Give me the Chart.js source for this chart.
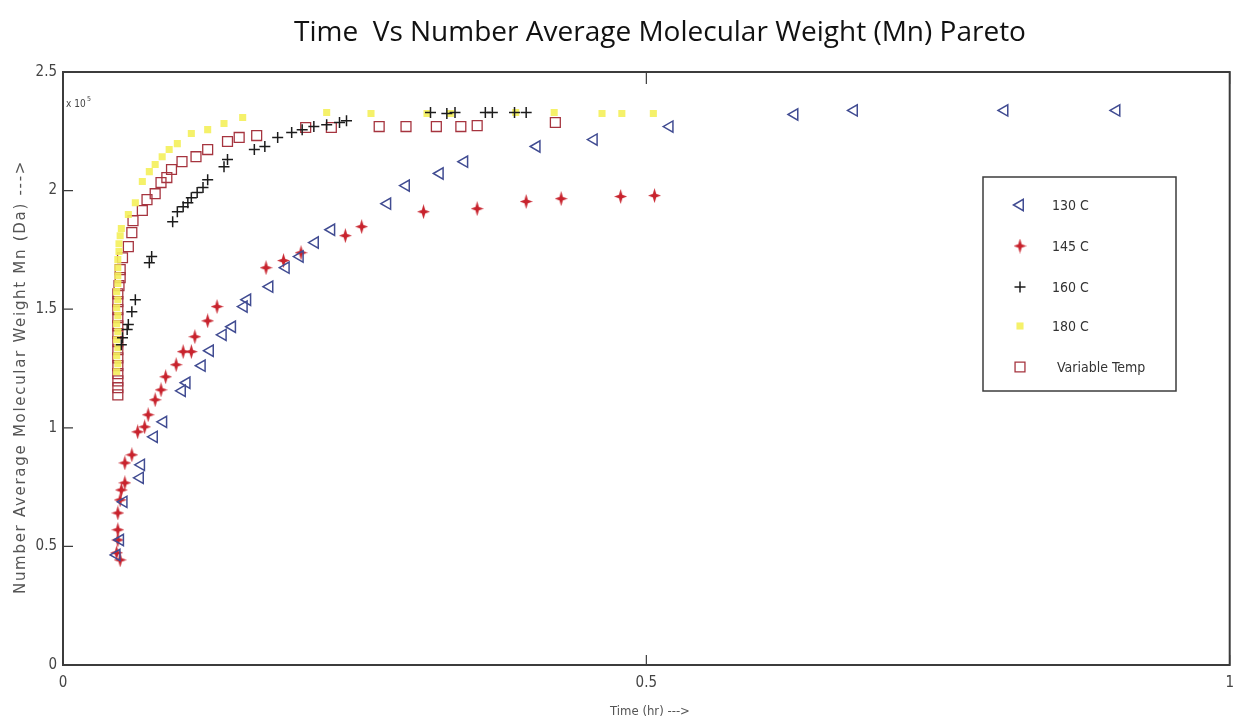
<!DOCTYPE html>
<html>
<head>
<meta charset="utf-8">
<script src="https://cdn.jsdelivr.net/npm/chart.js@4.4.1/dist/chart.umd.min.js"></script>
<style>
  html, body { margin: 0; padding: 0; background: #fff; }
  #wrap { width: 1238px; height: 723px; position: relative; }
</style>
</head>
<body>
<div id="wrap"><canvas id="mnChart"></canvas></div>
<script>
// Data (time in hr, Mn in units of 1e5 Da)
const time130 = [0.046,0.049,0.052,0.066,0.067,0.078,0.086,0.102,0.106,0.119,0.126,0.137,0.145,0.155,0.158,0.177,0.191,0.203,0.216,0.230,0.278,0.294,0.323,0.344,0.406,0.455,0.520,0.627,0.678,0.807,0.903];
const mn130   = [0.464,0.527,0.688,0.789,0.844,0.962,1.025,1.156,1.190,1.262,1.325,1.392,1.426,1.511,1.540,1.595,1.675,1.722,1.781,1.835,1.945,2.021,2.072,2.122,2.186,2.215,2.270,2.321,2.338,2.338,2.338];

const time145 = [0.049,0.046,0.047,0.047,0.047,0.049,0.050,0.053,0.053,0.059,0.064,0.070,0.073,0.079,0.084,0.088,0.097,0.103,0.110,0.113,0.124,0.132,0.174,0.189,0.204,0.242,0.256,0.309,0.355,0.397,0.427,0.478,0.507];
const mn145   = [0.443,0.473,0.527,0.570,0.641,0.696,0.738,0.768,0.852,0.886,0.983,1.004,1.055,1.118,1.160,1.215,1.266,1.321,1.321,1.384,1.451,1.511,1.675,1.705,1.738,1.810,1.848,1.911,1.924,1.954,1.966,1.975,1.979];

const time160 = [0.050,0.051,0.055,0.056,0.059,0.062,0.074,0.076,0.094,0.098,0.103,0.107,0.110,0.115,0.120,0.124,0.138,0.141,0.164,0.173,0.184,0.196,0.205,0.215,0.226,0.237,0.243,0.315,0.329,0.336,0.362,0.368,0.387,0.397];
const mn160   = [1.350,1.380,1.414,1.435,1.489,1.540,1.696,1.722,1.869,1.911,1.932,1.949,1.970,1.992,2.013,2.046,2.101,2.131,2.173,2.186,2.224,2.245,2.257,2.270,2.278,2.287,2.295,2.329,2.325,2.329,2.329,2.329,2.329,2.329];

const time180 = [0.046,0.047,0.046,0.047,0.046,0.047,0.046,0.047,0.046,0.047,0.046,0.047,0.047,0.047,0.047,0.048,0.048,0.049,0.050,0.056,0.062,0.068,0.074,0.079,0.085,0.091,0.098,0.110,0.124,0.138,0.154,0.226,0.264,0.312,0.332,0.388,0.421,0.462,0.479,0.506];
const mn180   = [1.236,1.270,1.304,1.338,1.371,1.405,1.439,1.473,1.506,1.540,1.574,1.608,1.641,1.675,1.709,1.743,1.776,1.810,1.840,1.899,1.949,2.038,2.080,2.110,2.143,2.173,2.198,2.241,2.257,2.283,2.308,2.329,2.325,2.325,2.325,2.329,2.329,2.325,2.325,2.325];

const timeVar = [0.047,0.047,0.047,0.047,0.047,0.047,0.047,0.047,0.047,0.047,0.047,0.047,0.047,0.047,0.048,0.049,0.049,0.051,0.056,0.059,0.060,0.068,0.072,0.079,0.084,0.089,0.093,0.102,0.114,0.124,0.141,0.151,0.166,0.208,0.230,0.271,0.294,0.320,0.341,0.355,0.422];
const mnVar   = [1.139,1.169,1.198,1.228,1.262,1.295,1.329,1.363,1.397,1.430,1.464,1.498,1.532,1.565,1.599,1.633,1.667,1.717,1.764,1.823,1.873,1.916,1.962,1.987,2.034,2.055,2.089,2.122,2.143,2.173,2.207,2.224,2.232,2.266,2.266,2.270,2.270,2.270,2.270,2.274,2.287];

const seriesLabels = ['130 C', '145 C', '160 C', '180 C', 'Variable Temp'];
const xTickLabels = ['0', '0.5', '1'];
const yTickLabels = ['0', '0.5', '1', '1.5', '2', '2.5'];

const TICK_FONT = '"DejaVu Sans Condensed", "Liberation Sans Narrow", Arial, sans-serif';

// red 4-point star marker
function makeStar(color) {
    const c = document.createElement('canvas');
    c.width = 13; c.height = 15;
    const g = c.getContext('2d');
    g.fillStyle = color;
    g.beginPath();
    g.moveTo(6.5, 0);
    g.lineTo(8.2, 5.8);
    g.lineTo(13, 7.5);
    g.lineTo(8.2, 9.2);
    g.lineTo(6.5, 15);
    g.lineTo(4.8, 9.2);
    g.lineTo(0, 7.5);
    g.lineTo(4.8, 5.8);
    g.closePath();
    g.fill();
    return c;
}
const starMarker = makeStar('#c8232d');

function toPoints(xs, ys) {
    return xs.map((x, i) => ({ x: x, y: ys[i] }));
}

const datasets = [
    {
        label: seriesLabels[0],
        data: toPoints(time130, mn130),
        pointStyle: 'triangle',
        rotation: -90,
        radius: 6.5,
        borderWidth: 1.5,
        borderColor: '#414c92',
        backgroundColor: 'rgba(0,0,0,0)'
    },
    {
        label: seriesLabels[1],
        data: toPoints(time145, mn145),
        pointStyle: starMarker,
        radius: 6,
        borderColor: '#c8232d',
        backgroundColor: '#c8232d'
    },
    {
        label: seriesLabels[2],
        data: toPoints(time160, mn160),
        pointStyle: 'cross',
        radius: 5.5,
        borderWidth: 1.5,
        borderColor: '#1c1c1c',
        backgroundColor: '#1c1c1c'
    },
    {
        label: seriesLabels[3],
        data: toPoints(time180, mn180),
        pointStyle: 'rect',
        radius: 5,
        borderWidth: 0,
        borderColor: 'rgba(244,240,90,0.9)',
        backgroundColor: 'rgba(244,240,90,0.9)'
    },
    {
        label: seriesLabels[4],
        data: toPoints(timeVar, mnVar),
        pointStyle: 'rect',
        radius: 7,
        borderWidth: 1.3,
        borderColor: '#a6343f',
        backgroundColor: 'rgba(0,0,0,0)'
    }
];

// frame, inward ticks, titles and legend
const decorations = {
    id: 'decorations',
    afterDraw(chart) {
        const ctx = chart.ctx;
        const a = chart.chartArea;
        const xs = chart.scales.x, ys = chart.scales.y;
        ctx.save();

        // frame
        ctx.strokeStyle = '#3c3c3c';
        ctx.lineWidth = 2;
        ctx.strokeRect(a.left, a.top, a.right - a.left, a.bottom - a.top);

        // inward ticks
        ctx.lineWidth = 1.2;
        ctx.beginPath();
        ys.ticks.forEach(t => {
            const y = ys.getPixelForValue(t.value);
            ctx.moveTo(a.left, y); ctx.lineTo(a.left + 10, y);
        });
        xs.ticks.forEach(t => {
            const x = xs.getPixelForValue(t.value);
            ctx.moveTo(x, a.bottom); ctx.lineTo(x, a.bottom - 10);
            ctx.moveTo(x, a.top); ctx.lineTo(x, a.top + 12);
        });
        ctx.stroke();

        // title
        ctx.fillStyle = '#111';
        ctx.font = '28px "Open Sans", sans-serif';
        ctx.textAlign = 'center';
        ctx.textBaseline = 'middle';
        ctx.fillText('Time  Vs Number Average Molecular Weight (Mn) Pareto', 660, 33);

        // axis titles
        ctx.fillStyle = '#555';
        ctx.font = '13px ' + TICK_FONT;
        ctx.fillText('Time (hr) --->', 650, 712);

        ctx.save();
        ctx.translate(21, 377);
        ctx.rotate(-Math.PI / 2);
        ctx.font = '15px "DejaVu Sans", sans-serif';
        ctx.letterSpacing = '1.7px';
        ctx.fillText('Number Average Molecular Weight Mn (Da) --->', 0, 0);
        ctx.restore();

        // exponent
        ctx.textAlign = 'left';
        ctx.font = '10px ' + TICK_FONT;
        ctx.fillStyle = '#444';
        ctx.fillText('x 10', 66, 104);
        ctx.font = '7px ' + TICK_FONT;
        ctx.fillText('5', 87, 99);

        // legend
        const lx = 983, ly = 177, lw = 193, lh = 214;
        ctx.fillStyle = '#fff';
        ctx.fillRect(lx, ly, lw, lh);
        ctx.strokeStyle = '#3c3c3c';
        ctx.lineWidth = 1.5;
        ctx.strokeRect(lx, ly, lw, lh);
        const rowsY = [205, 246, 287, 326, 367];
        chart.data.datasets.forEach((ds, i) => {
            const y = rowsY[i];
            ctx.save();
            ctx.strokeStyle = ds.borderColor;
            ctx.fillStyle = ds.backgroundColor;
            ctx.lineWidth = ds.borderWidth || 1;
            Chart.helpers.drawPoint(ctx, {
                pointStyle: ds.pointStyle,
                rotation: ds.rotation || 0,
                radius: ds.radius,
                borderWidth: ds.borderWidth || 0
            }, 1020, y);
            ctx.restore();
            ctx.fillStyle = '#333';
            ctx.font = '14px ' + TICK_FONT;
            ctx.textAlign = 'left';
            ctx.textBaseline = 'middle';
            ctx.fillText(ds.label, i === 4 ? 1057 : 1052, y + 1);
        });

        ctx.restore();
    }
};

new Chart(document.getElementById('mnChart'), {
    type: 'scatter',
    data: { datasets: datasets },
    options: {
        responsive: true,
        maintainAspectRatio: false,
        animation: false,
        layout: { padding: { left: 0, right: 4, top: 72, bottom: 0 } },
        plugins: {
            legend: { display: false },
            title: { display: false },
            tooltip: { enabled: false }
        },
        scales: {
            x: {
                type: 'linear',
                min: 0, max: 1,
                grid: { display: false, drawTicks: false },
                border: { display: false },
                afterFit(scale) {
                    scale.height = 58;
                    scale.paddingLeft = 0;
                    scale.paddingRight = 0;
                },
                ticks: {
                    stepSize: 0.5,
                    padding: 9,
                    color: '#444',
                    font: { family: TICK_FONT, size: 15 },
                    callback: (v, i) => xTickLabels[i]
                }
            },
            y: {
                type: 'linear',
                min: 0, max: 2.5,
                grid: { display: false, drawTicks: false },
                border: { display: false },
                afterFit(scale) {
                    scale.width = 63;
                    scale.paddingTop = 0;
                    scale.paddingBottom = 0;
                },
                ticks: {
                    stepSize: 0.5,
                    padding: 6,
                    color: '#444',
                    font: { family: TICK_FONT, size: 15 },
                    callback: (v, i) => yTickLabels[i]
                }
            }
        }
    },
    plugins: [decorations]
});
</script>
</body>
</html>
